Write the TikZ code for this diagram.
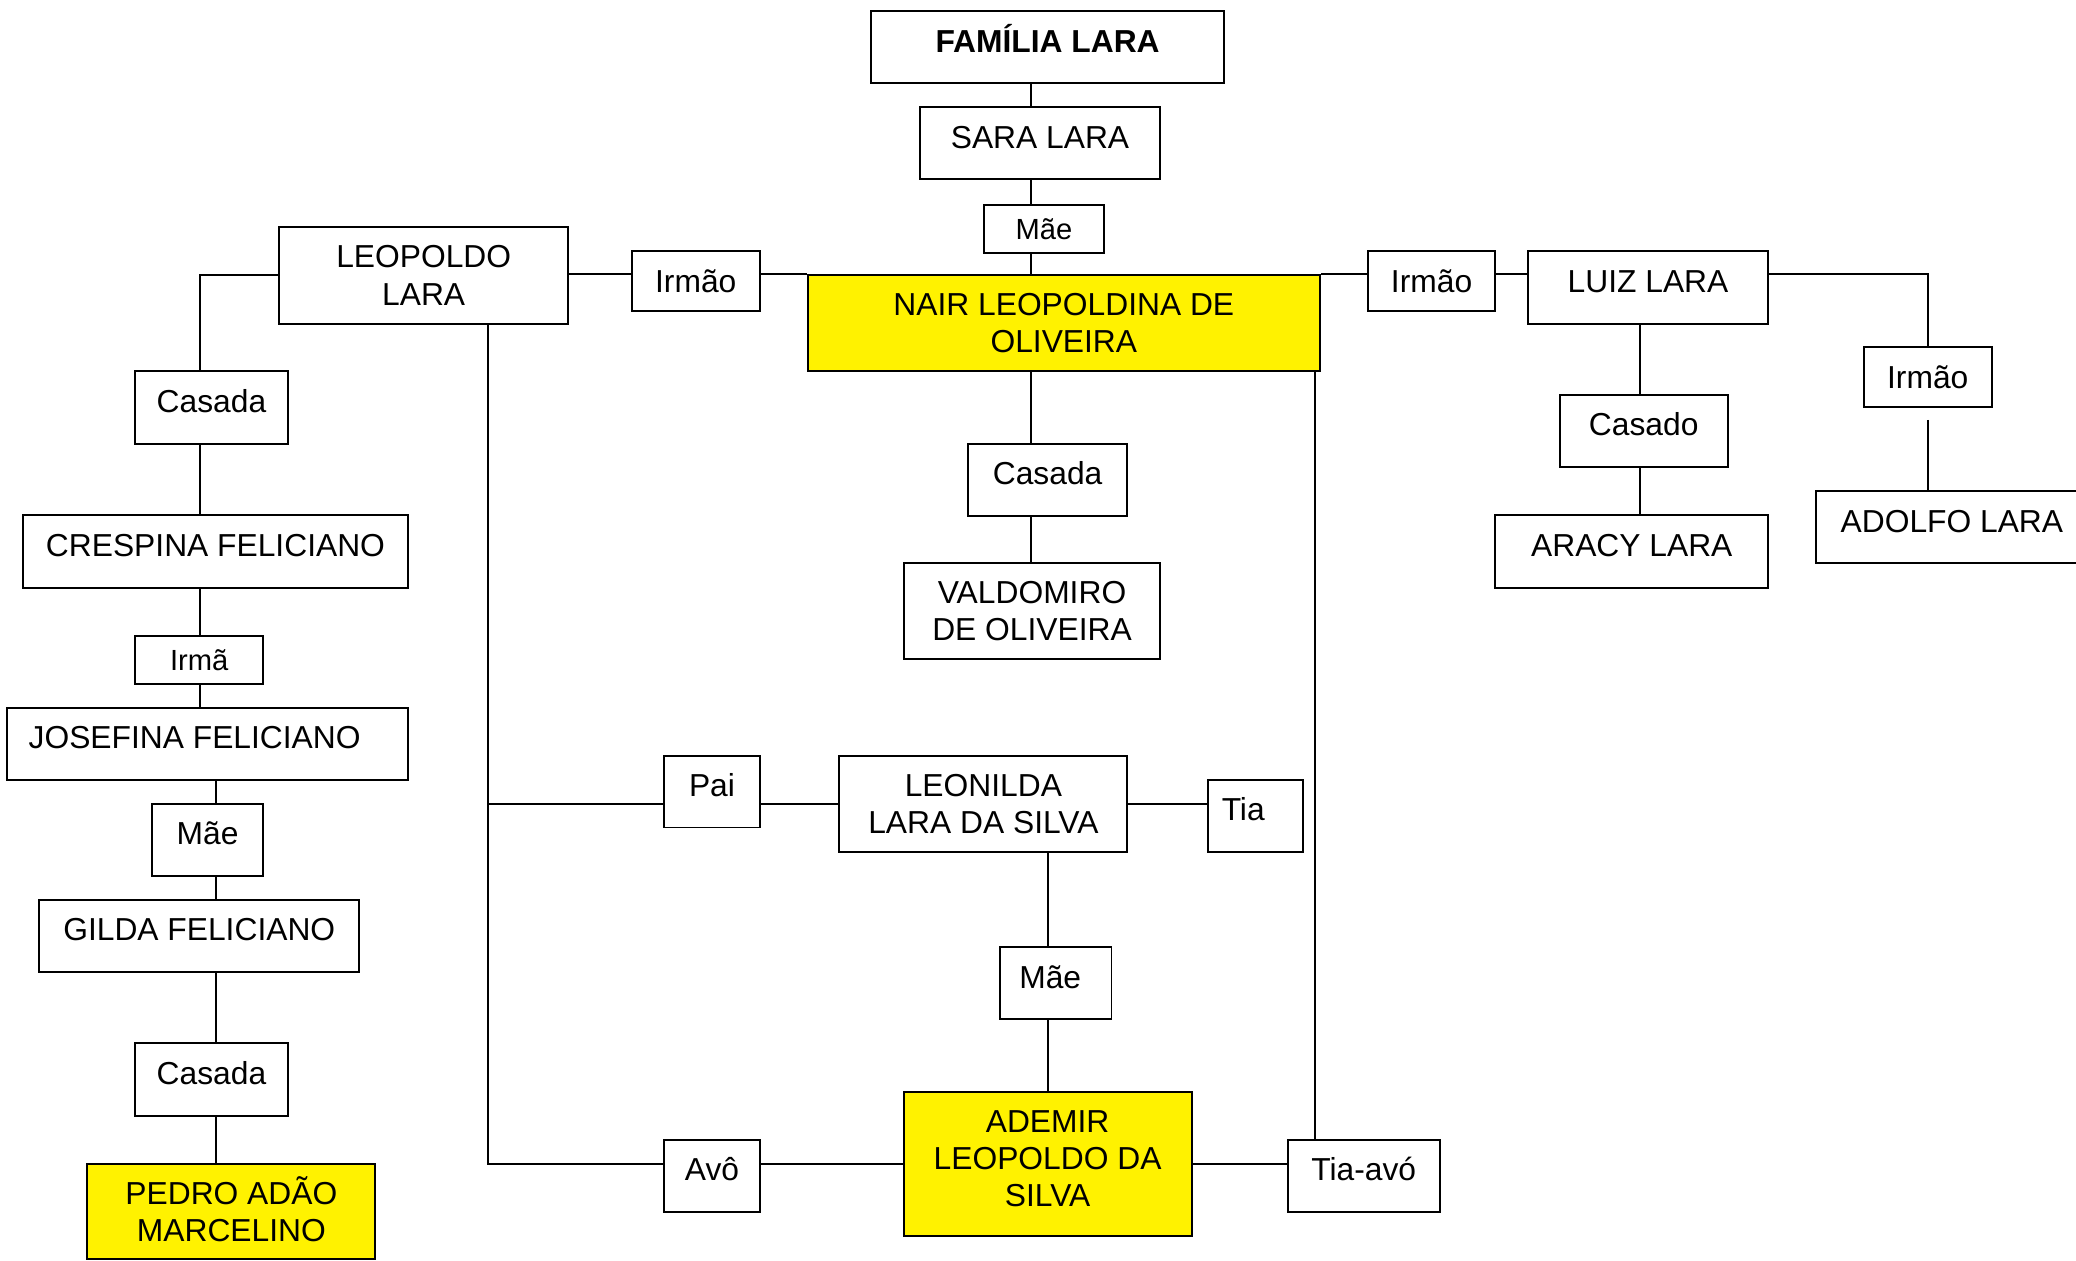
\documentclass[tikz,border=0pt]{standalone}
\usepackage{fontspec}
\setmainfont{Liberation Sans}
\begin{document}
\begin{tikzpicture}[x=0.5pt,y=-0.5pt,
  box/.style={draw, line width=0.75pt, inner sep=0pt, align=center, font=\fontsize{12}{14}\selectfont},
  up/.style={text height=8.6pt, text depth=5pt},
  mid/.style={text height=8.6pt, text depth=0pt},
  small/.style={font=\fontsize{11}{13}\selectfont, text height=7.9pt, text depth=0pt},
  yel/.style={fill=yellow},
  conn/.style={line width=0.75pt}]
\useasboundingbox (0,0) rectangle (1568,952);
\clip (0,0) rectangle (1568,952);
% boxes
\node[box,up,minimum width=133.25pt,minimum height=27.25pt] (fam) at (791.25,35.75) {\bfseries FAMÍLIA LARA};
\node[box,up,minimum width=91pt,minimum height=27.25pt] (sara) at (785.5,108.25) {SARA LARA};
\node[box,small,minimum width=45.5pt,minimum height=18.2pt] (mae1) at (788.5,172.8) {Mãe};
\node[box,minimum width=109pt,minimum height=36.5pt] (leo) at (320,208) {LEOPOLDO\\LARA};
\node[box,mid,minimum width=48.5pt,minimum height=22.45pt] (irm1) at (525.5,212.25) {Irmão};
\node[box,yel,minimum width=193.5pt,minimum height=36.25pt] (nair) at (803.5,244.25) {NAIR LEOPOLDINA DE\\OLIVEIRA};
\node[box,mid,minimum width=48.25pt,minimum height=22.45pt] (irm2) at (1081.25,212.25) {Irmão};
\node[box,up,minimum width=90.75pt,minimum height=27.3pt] (luiz) at (1244.75,217.1) {LUIZ LARA};
\node[box,mid,minimum width=48.5pt,minimum height=22.45pt] (irm3) at (1456,284.75) {Irmão};
\node[box,up,minimum width=63.5pt,minimum height=27.3pt] (casado) at (1241.5,325.7) {Casado};
\node[box,up,minimum width=103pt,minimum height=27.35pt] (aracy) at (1232.5,416.55) {ARACY LARA};
\node[box,up,minimum width=102.75pt,minimum height=27.3pt] (adolfo) at (1474.25,398.3) {ADOLFO LARA};
\node[box,up,minimum width=57.75pt,minimum height=27.25pt] (casada1) at (159.75,307.75) {Casada};
\node[box,up,minimum width=145.25pt,minimum height=27.35pt] (crespina) at (162.75,416.55) {CRESPINA FELICIANO};
\node[box,up,minimum width=60.25pt,minimum height=27.25pt] (casada2) at (791.25,362.25) {Casada};
\node[box,minimum width=97pt,minimum height=36.2pt] (valdo) at (779.5,461.8) {VALDOMIRO\\DE OLIVEIRA};
\node[box,small,minimum width=48.5pt,minimum height=18.2pt] (irma) at (150.5,498.2) {Irmã};
\node[box,up,minimum width=151.25pt,minimum height=27.3pt] (josefina) at (156.75,561.9) {JOSEFINA FELICIANO\hspace{9.75pt}};
\node[box,up,minimum width=42.25pt,minimum height=27.3pt] (mae2) at (156.75,634.2) {Mãe};
\node[box,up,minimum width=121pt,minimum height=27.5pt] (gilda) at (150.5,706.9) {GILDA FELICIANO};
\node[box,up,minimum width=57.75pt,minimum height=27.5pt] (casada3) at (159.75,815.5) {Casada};
\node[box,yel,text depth=2pt,minimum width=108.75pt,minimum height=36pt] (pedro) at (174.75,915) {PEDRO ADÃO\\MARCELINO};
\node[box,up,minimum width=36.25pt,minimum height=27.15pt] (pai) at (537.75,597.85) {Pai};
\node[box,minimum width=108.75pt,minimum height=36.3pt] (leonilda) at (742.75,607) {LEONILDA\\LARA DA SILVA};
\node[box,up,minimum width=36pt,minimum height=27.15pt] (tia) at (948.5,616.15) {Tia\hspace{9.5pt}};
\node[box,up,minimum width=42.25pt,minimum height=27.25pt] (mae3) at (797.25,742.75) {Mãe\hspace{4pt}};
\node[box,up,minimum width=36.25pt,minimum height=27.15pt] (avo) at (537.75,888.15) {Avô};
\node[box,yel,text depth=4pt,minimum width=108.75pt,minimum height=54.5pt] (ademir) at (791.25,879) {ADEMIR\\LEOPOLDO DA\\SILVA};
\node[box,up,minimum width=57.5pt,minimum height=27.15pt] (tiaavo) at (1030,888.15) {Tia-avó};
% spine coordinates
\coordinate (sp) at (779,0);
\coordinate (sl) at (1238.5,0);
\coordinate (sa) at (151,0);
\coordinate (sb) at (163,0);
\coordinate (sc) at (368.5,0);
\coordinate (sd) at (791.5,0);
\coordinate (se) at (993,0);
% connectors
\draw[conn] (fam.south -| sp) -- (sara.north -| sp);
\draw[conn] (sara.south -| sp) -- (mae1.north -| sp);
\draw[conn] (mae1.south -| sp) -- (nair.north -| sp);
\draw[conn] (leo.east |- nair.north) -- (irm1.west |- nair.north);
\draw[conn] (irm1.east |- nair.north) -- (nair.north west);
\draw[conn] (nair.north east) -- (irm2.west |- nair.north);
\draw[conn] (irm2.east |- nair.north) -- (luiz.west |- nair.north);
\draw[conn] (luiz.east |- nair.north) -| (irm3.north);
\draw[conn] ([yshift=-4.6pt]irm3.south) -- (irm3.south |- adolfo.north);
\draw[conn] (luiz.south -| sl) -- (casado.north -| sl);
\draw[conn] (casado.south -| sl) -- (aracy.north -| sl);
\draw[conn] (leo.west) -| (casada1.north -| sa);
\draw[conn] (casada1.south -| sa) -- (crespina.north -| sa);
\draw[conn] (crespina.south -| sa) -- (irma.north -| sa);
\draw[conn] (irma.south -| sa) -- (josefina.north -| sa);
\draw[conn] (josefina.south -| sb) -- (mae2.north -| sb);
\draw[conn] (mae2.south -| sb) -- (gilda.north -| sb);
\draw[conn] (gilda.south -| sb) -- (casada3.north -| sb);
\draw[conn] (casada3.south -| sb) -- (pedro.north -| sb);
\draw[conn] (leo.south -| sc) |- (avo.west |- ademir.west);
\draw[conn] (sc |- leonilda.west) -- (pai.west |- leonilda.west);
\draw[conn] (pai.east |- leonilda.west) -- (leonilda.west);
\draw[conn] (leonilda.east) -- (tia.west |- leonilda.east);
\draw[conn] (leonilda.south -| sd) -- (mae3.north -| sd);
\draw[conn] (mae3.south -| sd) -- (ademir.north -| sd);
\draw[conn] (avo.east |- ademir.west) -- (ademir.west);
\draw[conn] (ademir.east) -- (tiaavo.west |- ademir.east);
\draw[conn] (nair.south -| sp) -- (casada2.north -| sp);
\draw[conn] (casada2.south -| sp) -- (valdo.north -| sp);
\draw[conn] (nair.south -| se) -- (tiaavo.north -| se);
\end{tikzpicture}
\end{document}
